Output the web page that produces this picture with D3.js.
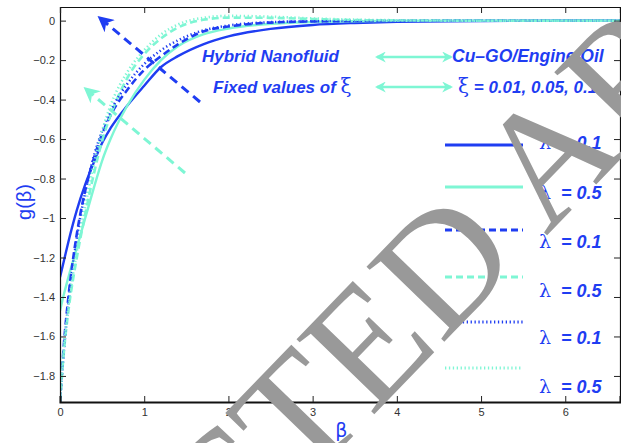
<!DOCTYPE html>
<html>
<head>
<meta charset="utf-8">
<script src="https://cdn.jsdelivr.net/npm/d3@7"></script>
<style>
body{margin:0;background:#fff}
svg{display:block}
</style>
</head>
<body>
<svg id="chart"></svg>
<script>
// beta grid shared by every curve
var beta = [0,0.05,0.1,0.2,0.3,0.4,0.5,0.6,0.8,1.0,1.2,1.4,1.7,2.0,2.5,3.0,3.5,4.0,5.0,6.0,6.65];

// g(beta)
var solidL01  = [-1.30,-1.21,-1.12,-0.96,-0.83,-0.72,-0.62,-0.545,-0.43,-0.33,-0.235,-0.18,-0.12,-0.08,-0.042,-0.022,-0.012,-0.006,-0.002,0,0];
var solidL05  = [-1.47,-1.38,-1.30,-1.15,-1.00,-0.85,-0.71,-0.60,-0.43,-0.30,-0.20,-0.13,-0.07,-0.04,-0.016,-0.007,-0.003,-0.001,0,0,0];
var dashL01   = [-1.93,-1.62,-1.40,-1.08,-0.86,-0.70,-0.575,-0.48,-0.35,-0.25,-0.18,-0.12,-0.055,-0.03,-0.01,-0.004,-0.002,-0.001,0,0,0];
var dashL05   = [-1.93,-1.66,-1.47,-1.20,-0.98,-0.78,-0.61,-0.48,-0.29,-0.17,-0.09,-0.035,0.004,0.015,0.014,0.008,0.003,0.001,0,0,0];
var dotL01    = [-1.93,-1.65,-1.43,-1.10,-0.87,-0.69,-0.56,-0.46,-0.32,-0.22,-0.15,-0.10,-0.05,-0.025,-0.008,-0.003,-0.001,0,0,0,0];
var dotL05    = [-1.93,-1.64,-1.45,-1.17,-0.94,-0.73,-0.56,-0.43,-0.26,-0.15,-0.07,-0.02,0.014,0.024,0.02,0.011,0.005,0.002,0,0,0];

var lambdaLabels = ["0.1","0.5","0.1","0.5","0.1","0.5"];
var xTicks = [0,1,2,3,4,5,6];
var yTicks = [0,-0.2,-0.4,-0.6,-0.8,-1,-1.2,-1.4,-1.6,-1.8];

var blue = "#1f3df2";
var cyan = "#7ef6d4";

var screen = {width:621, height:443};
var margins = {top:7, left:60, right:1, bottom:41};

var svg = d3.select("#chart")
            .attr("width",screen.width)
            .attr("height",screen.height);

var xScale = d3.scaleLinear()
               .domain([0,6.65])
               .range([margins.left, screen.width-margins.right]);
var yScale = d3.scaleLinear()
               .domain([-1.932,0.069])
               .range([screen.height-margins.bottom, margins.top]);

var series = [
  {vals:solidL01, color:blue, dash:null,  w:2.4},
  {vals:solidL05, color:cyan, dash:null,  w:2.4},
  {vals:dashL01,  color:blue, dash:"7,4", w:2.6},
  {vals:dashL05,  color:cyan, dash:"7,4", w:2.6},
  {vals:dotL01,   color:blue, dash:"1.3,2.6", w:2.6},
  {vals:dotL05,   color:cyan, dash:"1.3,2.6", w:2.6}
];

var defs = svg.append("defs");
defs.append("clipPath").attr("id","plotclip")
    .append("rect")
    .attr("x",xScale(0)).attr("y",yScale(0.069))
    .attr("width",xScale(6.65)-xScale(0))
    .attr("height",yScale(-1.932)-yScale(0.069));

function marker(id,color,size)
{
  defs.append("marker")
      .attr("id",id)
      .attr("viewBox","0 0 10 10")
      .attr("refX",8).attr("refY",5)
      .attr("markerUnits","userSpaceOnUse")
      .attr("markerWidth",size).attr("markerHeight",size)
      .attr("orient","auto-start-reverse")
      .append("path")
      .attr("d","M0,0 L10,5 L0,10 L3,5 Z")
      .attr("fill",color);
}
marker("headBlue",blue,16);
marker("headCyan",cyan,16);
marker("headCyanSmall",cyan,11);

// curves
var line = d3.line()
             .x(function(d){return xScale(d[0]);})
             .y(function(d){return yScale(d[1]);})
             .curve(d3.curveMonotoneX);

var curves = svg.append("g").attr("clip-path","url(#plotclip)");
curves.selectAll("path")
      .data(series)
      .enter()
      .append("path")
      .attr("d",function(s){return line(beta.map(function(b,i){return [b,s.vals[i]];}));})
      .attr("fill","none")
      .attr("stroke",function(s){return s.color;})
      .attr("stroke-width",function(s){return s.w;})
      .attr("stroke-dasharray",function(s){return s.dash;});

// axes box
var x0 = xScale(0), x1 = xScale(6.65), y0 = yScale(-1.932), y1 = yScale(0.069);
var fmt = function(d){return d===0 ? "0" : d3.format("")(d).replace("-","\u2212");};

var xAxis = d3.axisBottom(xScale).tickValues(xTicks).tickSize(-6).tickPadding(6).tickFormat(fmt);
var yAxis = d3.axisLeft(yScale).tickValues(yTicks).tickSize(-6).tickPadding(5).tickFormat(fmt);

var gx = svg.append("g").attr("transform","translate(0,"+y0+")").call(xAxis);
var gy = svg.append("g").attr("transform","translate("+x0+",0)").call(yAxis);
svg.append("g").attr("transform","translate(0,"+y1+")")
   .call(d3.axisTop(xScale).tickValues(xTicks).tickSize(-6).tickFormat(""));
svg.append("g").attr("transform","translate("+x1+",0)")
   .call(d3.axisRight(yScale).tickValues(yTicks).tickSize(-6).tickFormat(""));

svg.selectAll(".domain").attr("stroke","#111").attr("stroke-width",1.2);
gx.select(".domain").attr("stroke-width",2);
svg.selectAll(".tick line").attr("stroke","#222");
svg.selectAll(".tick text")
   .attr("font-family","Liberation Sans, Arial, sans-serif")
   .attr("font-size",11)
   .attr("fill","#333");

// axis labels
svg.append("text")
   .attr("transform","translate(31,202) rotate(-90)")
   .attr("text-anchor","middle")
   .attr("font-family","Liberation Sans, Arial, sans-serif")
   .attr("font-size",20)
   .attr("fill",blue)
   .text("g(\u03B2)");
svg.append("text")
   .attr("x",xScale(3.34)).attr("y",437)
   .attr("text-anchor","middle")
   .attr("font-family","DejaVu Sans, sans-serif")
   .attr("font-size",19)
   .attr("fill",blue)
   .text("\u03B2");

// annotation text
var note = svg.append("g")
              .attr("font-family","Liberation Sans, Arial, sans-serif")
              .attr("font-size",17)
              .attr("font-weight","bold")
              .attr("font-style","italic")
              .attr("fill",blue);
note.append("text").attr("x",202).attr("y",62).text("Hybrid Nanofluid");
note.append("text").attr("x",452).attr("y",62).attr("font-size",17.5).text("Cu\u2013GO/Engine Oil");
var t2 = note.append("text").attr("x",213).attr("y",93);
t2.append("tspan").text("Fixed values of ");
t2.append("tspan").attr("font-weight","normal").attr("font-style","normal")
  .attr("font-size",20).attr("font-family","DejaVu Serif, serif").text("\u03BE");
var t3 = note.append("text").attr("x",458).attr("y",93);
t3.append("tspan").attr("font-weight","normal").attr("font-style","normal")
  .attr("font-size",20).attr("font-family","DejaVu Serif, serif").text("\u03BE");
t3.append("tspan").text(" = 0.01, 0.05, 0.1");

[[57],[87]].forEach(function(r)
{
  svg.append("line")
     .attr("x1",377).attr("x2",451).attr("y1",r[0]).attr("y2",r[0])
     .attr("stroke",cyan).attr("stroke-width",2.5)
     .attr("marker-start","url(#headCyanSmall)")
     .attr("marker-end","url(#headCyanSmall)");
});

// big dashed arrows
svg.append("line")
   .attr("x1",200).attr("y1",102).attr("x2",100).attr("y2",18)
   .attr("stroke",blue).attr("stroke-width",3).attr("stroke-dasharray","9,6")
   .attr("marker-end","url(#headBlue)");
svg.append("line")
   .attr("x1",185).attr("y1",173).attr("x2",86).attr("y2",89)
   .attr("stroke",cyan).attr("stroke-width",3).attr("stroke-dasharray","9,6")
   .attr("marker-end","url(#headCyan)");

// legend
var legendY = [145,187,230,277,322,368];
var labelY = [149,199,248,297,344,393];
var legend = svg.append("g");
var items = legend.selectAll("g")
                  .data(series)
                  .enter()
                  .append("g");
items.append("line")
     .attr("x1",function(d,i){return i===4 ? 455 : 445;})
     .attr("x2",523)
     .attr("y1",function(d,i){return legendY[i];})
     .attr("y2",function(d,i){return legendY[i];})
     .attr("stroke",function(d){return d.color;})
     .attr("stroke-width",3)
     .attr("stroke-dasharray",function(d){return d.dash;});
var lt = items.append("text")
              .attr("x",539)
              .attr("y",function(d,i){return labelY[i];})
              .attr("font-family","Liberation Sans, Arial, sans-serif")
              .attr("font-size",18)
              .attr("fill",blue);
lt.append("tspan").attr("font-family","DejaVu Serif, serif").attr("font-size",19).text("\u03BB");
lt.append("tspan").attr("font-weight","bold").attr("font-style","italic")
  .attr("dx",10).text(function(d,i){return "= "+lambdaLabels[i];});

// watermark
svg.append("text")
   .attr("transform","translate(396,312) rotate(-46)")
   .attr("text-anchor","middle")
   .attr("dominant-baseline","central")
   .attr("font-family","Liberation Serif, Times New Roman, serif")
   .attr("font-size",165)
   .attr("fill","#999")
   .text("RETRACTED ARTICLE");
</script>
</body>
</html>
